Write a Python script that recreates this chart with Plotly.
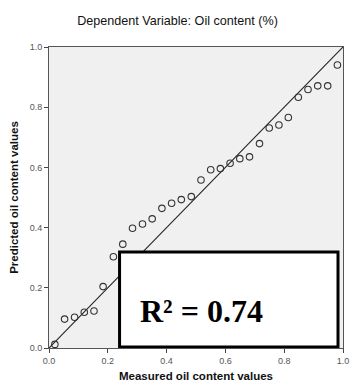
import plotly.graph_objects as go

measured = [0.020, 0.053, 0.087, 0.120, 0.153, 0.184, 0.219, 0.251, 0.284, 0.318,
            0.351, 0.384, 0.417, 0.450, 0.484, 0.517, 0.550, 0.583, 0.616, 0.649,
            0.682, 0.716, 0.749, 0.782, 0.814, 0.848, 0.881, 0.914, 0.948, 0.981]
predicted = [0.012, 0.096, 0.102, 0.119, 0.123, 0.204, 0.303, 0.345, 0.398, 0.412,
             0.429, 0.464, 0.481, 0.493, 0.503, 0.558, 0.592, 0.596, 0.614, 0.629,
             0.635, 0.679, 0.731, 0.741, 0.766, 0.833, 0.859, 0.871, 0.871, 0.940]
ref_line = [0.0, 1.0]
tick_vals = [0.0, 0.2, 0.4, 0.6, 0.8, 1.0]
tick_text = ["0.0", "0.2", "0.4", "0.6", "0.8", "1.0"]
title_text = "Dependent Variable: Oil content (%)"
r2_text = "R² = 0.74"

fig = go.Figure()
fig.add_trace(go.Scatter(x=ref_line, y=ref_line, mode="lines",
                         line=dict(color="#222222", width=1.1), hoverinfo="skip"))
fig.add_trace(go.Scatter(x=measured, y=predicted, mode="markers",
                         marker=dict(symbol="circle-open", size=6.5,
                                     color="#333333", line=dict(width=1.1))))

fig.add_shape(type="rect", xref="x", yref="y", x0=0.24, x1=0.983, y0=0.003, y1=0.319,
              line=dict(color="black", width=3), fillcolor="white", layer="above")
fig.add_annotation(x=0.52, y=0.122, xref="x", yref="y", text="<b>" + r2_text + "</b>",
                   showarrow=False,
                   font=dict(family="Liberation Serif, Times New Roman, serif", size=32, color="black"))

axis_common = dict(range=[0, 1], tickvals=tick_vals, ticktext=tick_text,
                   showgrid=False, zeroline=False, ticks="outside", ticklen=4,
                   tickcolor="#444444", tickwidth=1,
                   showline=True, linecolor="#555555", linewidth=1, mirror=True,
                   tickfont=dict(family="Arial, Liberation Sans, sans-serif", size=9, color="#555555"))

fig.update_layout(
    width=358, height=390,
    margin=dict(l=49, r=9, t=47, b=42),
    paper_bgcolor="white", plot_bgcolor="#f0f0f0",
    showlegend=False,
    title=dict(text=title_text, x=0.496, xanchor="center", y=0.948, yanchor="middle",
               font=dict(family="Arial, Liberation Sans, sans-serif", size=12.6, color="#111111")),
    xaxis=dict(**axis_common,
               title=dict(text="<b>Measured oil content values</b>", standoff=7,
                          font=dict(family="Arial, Liberation Sans, sans-serif", size=11.5, color="#111111"))),
    yaxis=dict(**axis_common,
               title=dict(text="<b>Predicted oil content values</b>", standoff=8,
                          font=dict(family="Arial, Liberation Sans, sans-serif", size=11.5, color="#111111"))),
)

fig.write_html("out.html")
